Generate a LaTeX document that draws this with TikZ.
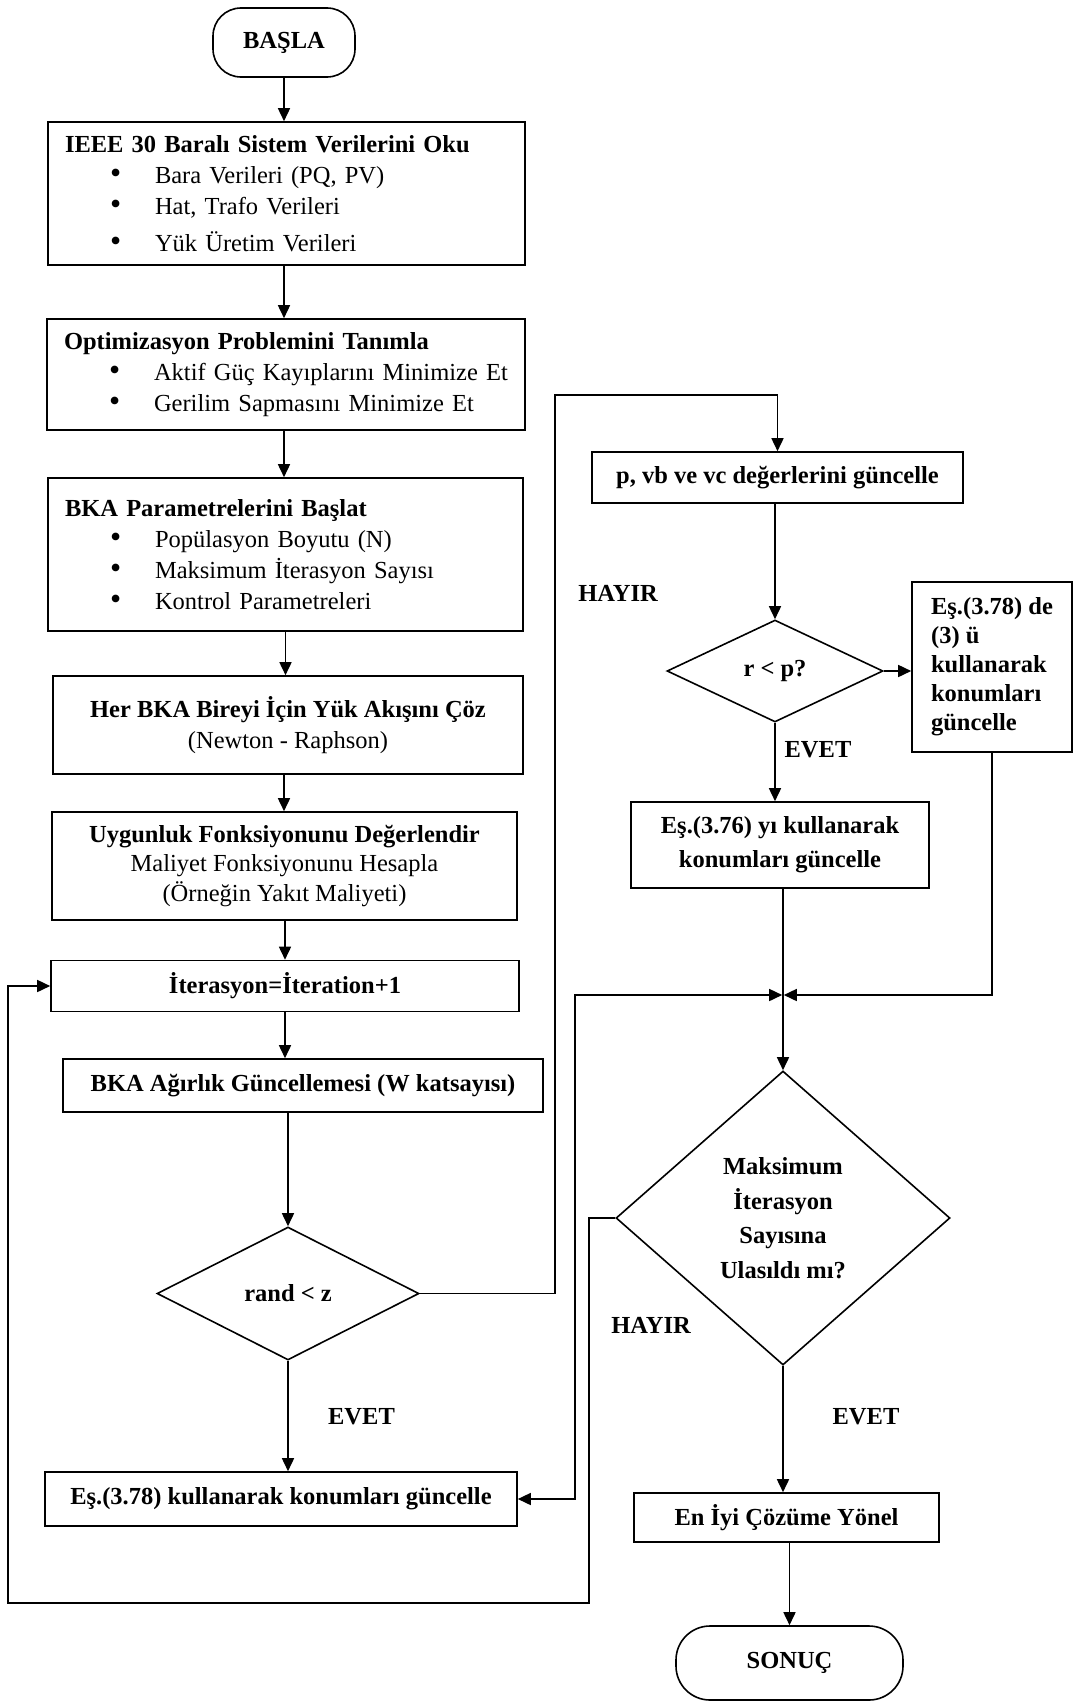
\documentclass[tikz,border=0pt]{standalone}
\usepackage{fontspec}
\setmainfont{Liberation Serif}
\usetikzlibrary{arrows.meta,shapes.geometric}
\newcommand{\bul}[1]{\makebox[90pt][l]{\hspace*{45pt}\raisebox{-0.5pt}{\scalebox{1.3}{\textbullet}}}#1}
\newcommand{\myfs}[1]{\fontsize{24.5pt}{#1}\selectfont}
\begin{document}
\begin{tikzpicture}[x=1pt,y=-1pt,
  base/.style={draw,line width=1.6pt,inner sep=0pt,font=\myfs{31pt}},
  box/.style={base,rectangle,align=center},
  bf/.append style={font=\myfs{31pt}\bfseries},
  term/.style={base,rectangle,rounded corners=28pt,font=\myfs{31pt}\bfseries},
  dec/.style={base,diamond,align=center,font=\myfs{34.5pt}\bfseries},
  lbl/.style={font=\myfs{31pt}\bfseries,inner sep=0pt},
  con/.style={line width=1.6pt},
  arr/.style={con,-{Triangle[length=13pt,width=12pt]}},
  darr/.style={con,{Triangle[length=13pt,width=12pt]}-{Triangle[length=13pt,width=12pt]}},
]
\useasboundingbox (0,0) rectangle (1074,1702);

% left column
\node[term, minimum width=142pt, minimum height=69pt] (start) at (284,42.5) {BAŞLA};
\node[box, align=left, text width=443pt, inner xsep=17pt, minimum height=143pt] (b1) at (286.5,193.5)
  {\textbf{IEEE 30 Baralı Sistem Verilerini Oku}\\ \bul{Bara Verileri (PQ, PV)}\\ \bul{Hat, Trafo Verileri}\\[6pt] \bul{Yük Üretim Verileri}};
\node[box, align=left, text width=444pt, inner xsep=17pt, minimum height=111pt] (b2) at (286,374.5)
  {\textbf{Optimizasyon Problemini Tanımla}\\ \bul{Aktif Güç Kayıplarını Minimize Et}\\ \bul{Gerilim Sapmasını Minimize Et}};
\node[box, align=left, text width=441pt, inner xsep=17pt, minimum height=153pt] (b3) at (285.5,554.5)
  {\textbf{BKA Parametrelerini Başlat}\\ \bul{Popülasyon Boyutu (N)}\\ \bul{Maksimum İterasyon Sayısı}\\ \bul{Kontrol Parametreleri}};
\node[box, minimum width=470pt, minimum height=98pt] (b4) at (288,725)
  {\textbf{Her BKA Bireyi İçin Yük Akışını Çöz}\\ (Newton - Raphson)};
\node[box, minimum width=465pt, minimum height=108pt, font=\myfs{29.5pt}] (b5) at (284.5,866)
  {\textbf{Uygunluk Fonksiyonunu Değerlendir}\\ Maliyet Fonksiyonunu Hesapla\\ (Örneğin Yakıt Maliyeti)};
\node[box, bf, minimum width=468pt, minimum height=51pt] (b6) at (285,986) {İterasyon=İteration+1};
\node[box, bf, minimum width=480pt, minimum height=53pt] (b7) at (303,1085.5) {BKA Ağırlık Güncellemesi (W katsayısı)};
\node[dec, minimum width=262pt, minimum height=133pt] (d1) at (288,1293.5) {rand < z};
\node[box, bf, minimum width=472pt, minimum height=54pt] (b8) at (281,1499) {Eş.(3.78) kullanarak konumları güncelle};

% right column
\node[box, bf, minimum width=371pt, minimum height=51pt] (b9) at (777.5,477.5) {p, vb ve vc değerlerini güncelle};
\node[dec, minimum width=216pt, minimum height=102pt] (d2) at (775,671) {r < p?};
\node[box, align=left, minimum width=160pt, minimum height=170pt, font=\myfs{29pt}\bfseries] (b10) at (992,667)
  {Eş.(3.78) de\\ (3) ü\\ kullanarak\\ konumları\\ güncelle};
\node[box, minimum width=298pt, minimum height=86pt, font=\myfs{34pt}\bfseries] (b11) at (780,845)
  {Eş.(3.76) yı kullanarak\\ konumları güncelle};
\node[dec, minimum width=334pt, minimum height=294pt] (d3) at (783,1218)
  {Maksimum\\ İterasyon\\ Sayısına\\ Ulasıldı mı?};
\node[box, bf, minimum width=305pt, minimum height=49pt] (b12) at (786.5,1517.5) {En İyi Çözüme Yönel};
\node[term, rounded corners=34pt, minimum width=227pt, minimum height=74pt] (end) at (789.5,1663) {SONUÇ};

% labels
\node[lbl] (l1) at (361.5,1417) {EVET};
\node[lbl] (l2) at (618,593) {HAYIR};
\node[lbl] (l3) at (818,750) {EVET};
\node[lbl] (l4) at (651,1325) {HAYIR};
\node[lbl] (l5) at (866,1417) {EVET};

% bend points
\coordinate (m) at (783,995);
\coordinate (c1) at (555,395);
\coordinate (c2) at (575,995);
\coordinate (c3) at (589,1603);
\coordinate (c4) at (8,1603);

% connectors
\draw[arr] (start.south) -- (start.south |- b1.north);
\draw[arr] (b1.south -| start.south) -- (start.south |- b2.north);
\draw[arr] (b2.south -| start.south) -- (start.south |- b3.north);
\draw[arr] (b3.south) -- (b3.south |- b4.north);
\draw[arr] (b4.south -| start.south) -- (start.south |- b5.north);
\draw[arr] (b5.south -| b6.north) -- (b6.north);
\draw[arr] (b6.south) -- (b6.south |- b7.north);
\draw[arr] (b7.south -| d1.north) -- (d1.north);
\draw[arr] (d1.south) -- (d1.south |- b8.north);
\draw[arr] (d1.east) -| (c1) -| (b9.north);
\draw[arr] (b9.south -| d2.north) -- (d2.north);
\draw[arr] (d2.east) -- (d2.east -| b10.west);
\draw[arr] (d2.south) -- (d2.south |- b11.north);
\draw[con] (b11.south -| m) -- (m);
\draw[arr] (m) -- (d3.north);
\draw[arr, shorten >=0.8pt] (b10.south) |- (m);
\draw[darr, shorten >=0.8pt] (b8.east) -| (c2) -- (m);
\draw[arr] (d3.west) -| (c3) -- (c4) |- (b6.west);
\draw[arr] (d3.south) -- (d3.south |- b12.north);
\draw[arr] (b12.south -| end.north) -- (end.north);
\end{tikzpicture}
\end{document}
